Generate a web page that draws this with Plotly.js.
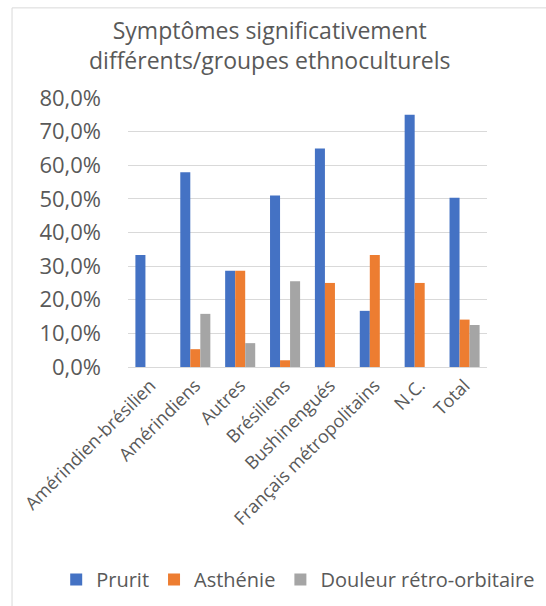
<!DOCTYPE html>
<html>
<head>
<meta charset="utf-8">
<script src="https://cdn.plot.ly/plotly-3.0.1.min.js"></script>
<style>html,body{margin:0;padding:0;background:#fff;}#chart{width:546px;height:606px;}</style>
</head>
<body>
<div id="chart"></div>
<script>
const categories = ["Amérindien-brésilien", "Amérindiens", "Autres", "Brésiliens", "Bushinengués", "Français métropolitains", "N.C.", "Total"];
const prurit = [33.3, 57.9, 28.6, 51.0, 65.0, 16.7, 75.0, 50.3];
const asthenie = [0, 5.3, 28.6, 2.0, 25.0, 33.3, 25.0, 14.1];
const douleur = [0, 15.8, 7.1, 25.5, 0, 0, 0, 12.5];
const seriesNames = ["Prurit", "Asthénie", "Douleur rétro-orbitaire"];
const yTicks = [0, 10, 20, 30, 40, 50, 60, 70, 80];
const titleLines = ["Symptômes significativement", "différents/groupes ethnoculturels"];

const font = "Open Sans, Noto Sans, sans-serif";
const gray = "#595959";
const colors = ["#4472c4", "#ed7d31", "#a5a5a5"];
const data = [prurit, asthenie, douleur].map((v, i) => ({
  type: "bar", x: categories, y: v, name: seriesNames[i],
  marker: {color: colors[i]}, hoverinfo: "none"
}));

const layout = {
  width: 546, height: 606,
  margin: {l: 128, r: 59, t: 98, b: 239, autoexpand: false},
  paper_bgcolor: "#fff", plot_bgcolor: "#fff",
  barmode: "group", bargap: 0.33, bargroupgap: 0,
  annotations: [{
    text: titleLines.join("<br>"), xref: "paper", yref: "paper",
    x: 0.395, xanchor: "center", y: 1.198, yanchor: "middle", showarrow: false,
    font: {family: font, size: 23, color: gray}
  }],
  xaxis: {automargin: false, tickangle: -45, tickfont: {family: font, size: 18, color: gray},
    showline: true, linecolor: "#d9d9d9", linewidth: 1, ticks: "", showgrid: false, fixedrange: true},
  yaxis: {automargin: false, range: [0, 80], tickvals: yTicks, ticktext: yTicks.map(t => t.toFixed(1).replace(".", ",") + "%"),
    tickfont: {family: font, size: 22, color: gray}, gridcolor: "#d9d9d9", gridwidth: 1,
    zeroline: false, showline: false, ticks: "", ticklabelstandoff: 26, fixedrange: true},
  legend: {orientation: "h", xref: "paper", yref: "paper", x: -0.2, xanchor: "left", y: -0.79, yanchor: "middle",
    font: {family: font, size: 20, color: gray}, traceorder: "normal"},
  shapes: [
    {type: "line", xref: "paper", yref: "paper", x0: -0.323, x1: 1.3, y0: 1.335, y1: 1.335, line: {color: "#d9d9d9", width: 1}},
    {type: "line", xref: "paper", yref: "paper", x0: -0.323, x1: -0.323, y0: 1.335, y1: -1.0, line: {color: "#d9d9d9", width: 1}}
  ]
};
Plotly.newPlot("chart", data, layout, {displayModeBar: false, staticPlot: true});
</script>
</body>
</html>
